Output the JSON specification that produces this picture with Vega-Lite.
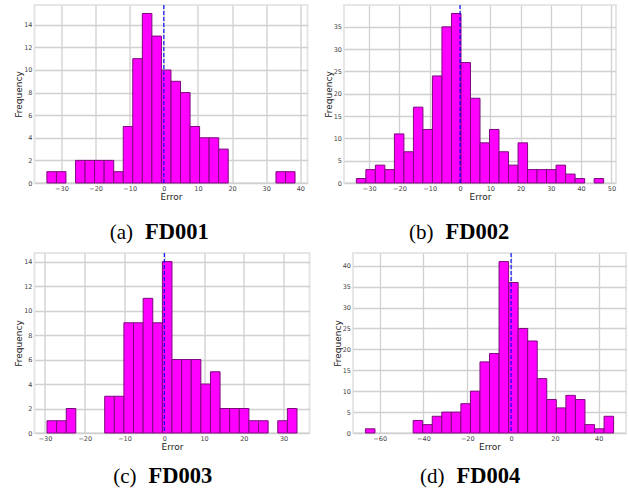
{
  "$schema": "https://vega.github.io/schema/vega-lite/v6.json",
  "padding": {"left": 13.5, "top": 3, "right": 0, "bottom": 0},
  "datasets": {
    "fd001": [
      {"bin_start": -34.27, "bin_end": -31.47, "count": 1},
      {"bin_start": -31.47, "bin_end": -28.68, "count": 1},
      {"bin_start": -25.88, "bin_end": -23.08, "count": 2},
      {"bin_start": -23.08, "bin_end": -20.29, "count": 2},
      {"bin_start": -20.29, "bin_end": -17.49, "count": 2},
      {"bin_start": -17.49, "bin_end": -14.69, "count": 2},
      {"bin_start": -14.69, "bin_end": -11.89, "count": 1},
      {"bin_start": -11.89, "bin_end": -9.10, "count": 5},
      {"bin_start": -9.10, "bin_end": -6.30, "count": 11},
      {"bin_start": -6.30, "bin_end": -3.50, "count": 15},
      {"bin_start": -3.50, "bin_end": -0.71, "count": 13},
      {"bin_start": -0.71, "bin_end": 2.09, "count": 10},
      {"bin_start": 2.09, "bin_end": 4.89, "count": 9},
      {"bin_start": 4.89, "bin_end": 7.69, "count": 8},
      {"bin_start": 7.69, "bin_end": 10.48, "count": 5},
      {"bin_start": 10.48, "bin_end": 13.28, "count": 4},
      {"bin_start": 13.28, "bin_end": 16.08, "count": 4},
      {"bin_start": 16.08, "bin_end": 18.87, "count": 3},
      {"bin_start": 32.86, "bin_end": 35.66, "count": 1},
      {"bin_start": 35.66, "bin_end": 38.45, "count": 1}
    ],
    "fd002": [
      {"bin_start": -34.24, "bin_end": -31.10, "count": 1},
      {"bin_start": -31.10, "bin_end": -27.96, "count": 3},
      {"bin_start": -27.96, "bin_end": -24.82, "count": 4},
      {"bin_start": -24.82, "bin_end": -21.67, "count": 3},
      {"bin_start": -21.67, "bin_end": -18.53, "count": 11},
      {"bin_start": -18.53, "bin_end": -15.39, "count": 7},
      {"bin_start": -15.39, "bin_end": -12.25, "count": 17},
      {"bin_start": -12.25, "bin_end": -9.11, "count": 12},
      {"bin_start": -9.11, "bin_end": -5.97, "count": 24},
      {"bin_start": -5.97, "bin_end": -2.82, "count": 35},
      {"bin_start": -2.82, "bin_end": 0.32, "count": 38},
      {"bin_start": 0.32, "bin_end": 3.46, "count": 27},
      {"bin_start": 3.46, "bin_end": 6.60, "count": 19},
      {"bin_start": 6.60, "bin_end": 9.74, "count": 9},
      {"bin_start": 9.74, "bin_end": 12.88, "count": 12},
      {"bin_start": 12.88, "bin_end": 16.02, "count": 7},
      {"bin_start": 16.02, "bin_end": 19.17, "count": 4},
      {"bin_start": 19.17, "bin_end": 22.31, "count": 9},
      {"bin_start": 22.31, "bin_end": 25.45, "count": 3},
      {"bin_start": 25.45, "bin_end": 28.59, "count": 3},
      {"bin_start": 28.59, "bin_end": 31.73, "count": 3},
      {"bin_start": 31.73, "bin_end": 34.87, "count": 4},
      {"bin_start": 34.87, "bin_end": 38.01, "count": 2},
      {"bin_start": 38.01, "bin_end": 41.16, "count": 1},
      {"bin_start": 44.30, "bin_end": 47.44, "count": 1}
    ],
    "fd003": [
      {"bin_start": -29.50, "bin_end": -27.08, "count": 1},
      {"bin_start": -27.08, "bin_end": -24.66, "count": 1},
      {"bin_start": -24.66, "bin_end": -22.25, "count": 2},
      {"bin_start": -14.99, "bin_end": -12.57, "count": 3},
      {"bin_start": -12.57, "bin_end": -10.16, "count": 3},
      {"bin_start": -10.16, "bin_end": -7.74, "count": 9},
      {"bin_start": -7.74, "bin_end": -5.32, "count": 9},
      {"bin_start": -5.32, "bin_end": -2.90, "count": 11},
      {"bin_start": -2.90, "bin_end": -0.48, "count": 9},
      {"bin_start": -0.48, "bin_end": 1.93, "count": 14},
      {"bin_start": 1.93, "bin_end": 4.35, "count": 6},
      {"bin_start": 4.35, "bin_end": 6.77, "count": 6},
      {"bin_start": 6.77, "bin_end": 9.19, "count": 6},
      {"bin_start": 9.19, "bin_end": 11.61, "count": 4},
      {"bin_start": 11.61, "bin_end": 14.02, "count": 5},
      {"bin_start": 14.02, "bin_end": 16.44, "count": 2},
      {"bin_start": 16.44, "bin_end": 18.86, "count": 2},
      {"bin_start": 18.86, "bin_end": 21.28, "count": 2},
      {"bin_start": 21.28, "bin_end": 23.70, "count": 1},
      {"bin_start": 23.70, "bin_end": 26.11, "count": 1},
      {"bin_start": 28.53, "bin_end": 30.95, "count": 1},
      {"bin_start": 30.95, "bin_end": 33.37, "count": 2}
    ],
    "fd004": [
      {"bin_start": -66.50, "bin_end": -62.14, "count": 1},
      {"bin_start": -44.71, "bin_end": -40.35, "count": 3},
      {"bin_start": -40.35, "bin_end": -35.99, "count": 2},
      {"bin_start": -35.99, "bin_end": -31.64, "count": 4},
      {"bin_start": -31.64, "bin_end": -27.28, "count": 5},
      {"bin_start": -27.28, "bin_end": -22.92, "count": 5},
      {"bin_start": -22.92, "bin_end": -18.56, "count": 7},
      {"bin_start": -18.56, "bin_end": -14.20, "count": 10},
      {"bin_start": -14.20, "bin_end": -9.85, "count": 17},
      {"bin_start": -9.85, "bin_end": -5.49, "count": 19},
      {"bin_start": -5.49, "bin_end": -1.13, "count": 41},
      {"bin_start": -1.13, "bin_end": 3.23, "count": 36},
      {"bin_start": 3.23, "bin_end": 7.59, "count": 25},
      {"bin_start": 7.59, "bin_end": 11.94, "count": 22},
      {"bin_start": 11.94, "bin_end": 16.30, "count": 13},
      {"bin_start": 16.30, "bin_end": 20.66, "count": 8},
      {"bin_start": 20.66, "bin_end": 25.02, "count": 6},
      {"bin_start": 25.02, "bin_end": 29.38, "count": 9},
      {"bin_start": 29.38, "bin_end": 33.73, "count": 8},
      {"bin_start": 33.73, "bin_end": 38.09, "count": 2},
      {"bin_start": 38.09, "bin_end": 42.45, "count": 1},
      {"bin_start": 42.45, "bin_end": 46.81, "count": 4}
    ],
    "zero": [{"zero": 0}]
  },
  "columns": 1,
  "align": "none",
  "spacing": 7,
  "concat": [
    {
      "spacing": 0,
      "vconcat": [
        {
          "spacing": 14.5,
          "hconcat": [
            {
              "width": 273, "height": 178,
              "layer": [
                {
                  "data": {"name": "fd001"},
                  "mark": {"type": "rect", "fill": "#ff00ff", "stroke": "#7d087d", "strokeWidth": 1},
                  "encoding": {
                    "x": {"field": "bin_start", "type": "quantitative", "scale": {"domain": [-37.9, 42.1], "nice": false, "zero": false}, "axis": {"title": "Error", "values": [-30, -20, -10, 0, 10, 20, 30, 40], "format": "d", "tickCount": 30}},
                    "x2": {"field": "bin_end"},
                    "y": {"field": "count", "type": "quantitative", "scale": {"domain": [0, 15.75], "nice": false}, "axis": {"title": "Frequency", "values": [0, 2, 4, 6, 8, 10, 12, 14], "format": "d", "tickCount": 30}},
                    "y2": {"datum": 0}
                  }
                },
                {
                  "data": {"name": "zero"},
                  "mark": {"type": "rule", "color": "#0000ff", "strokeDash": [4, 2], "strokeWidth": 1.1},
                  "encoding": {"x": {"field": "zero", "type": "quantitative"}}
                }
              ]
            },
            {
              "width": 272, "height": 178,
              "layer": [
                {
                  "data": {"name": "fd002"},
                  "mark": {"type": "rect", "fill": "#ff00ff", "stroke": "#7d087d", "strokeWidth": 1},
                  "encoding": {
                    "x": {"field": "bin_start", "type": "quantitative", "scale": {"domain": [-38.32, 51.52], "nice": false, "zero": false}, "axis": {"title": "Error", "values": [-30, -20, -10, 0, 10, 20, 30, 40, 50], "format": "d", "tickCount": 30}},
                    "x2": {"field": "bin_end"},
                    "y": {"field": "count", "type": "quantitative", "scale": {"domain": [0, 39.9], "nice": false}, "axis": {"title": "Frequency", "values": [0, 5, 10, 15, 20, 25, 30, 35], "format": "d", "tickCount": 30}},
                    "y2": {"datum": 0}
                  }
                },
                {
                  "data": {"name": "zero"},
                  "mark": {"type": "rule", "color": "#0000ff", "strokeDash": [4, 2], "strokeWidth": 1.1},
                  "encoding": {"x": {"field": "zero", "type": "quantitative"}}
                }
              ]
            }
          ]
        },
        {
          "spacing": 46,
          "hconcat": [
            {
              "width": 209, "height": 36, "view": {"stroke": null},
              "data": {"values": [{"tag": "(a)", "name": "FD001"}]},
              "layer": [
                {"mark": {"type": "text", "font": "Liberation Serif", "fontSize": 21, "align": "right", "baseline": "alphabetic", "dx": -6, "color": "#000000"}, "encoding": {"text": {"field": "tag"}, "y": {"value": "height"}}},
                {"mark": {"type": "text", "font": "Liberation Serif", "fontSize": 22.5, "fontWeight": "bold", "align": "left", "baseline": "alphabetic", "dx": 6, "color": "#000000"}, "encoding": {"text": {"field": "name"}, "y": {"value": "height"}}}
              ]
            },
            {
              "width": 300, "height": 36, "view": {"stroke": null},
              "data": {"values": [{"tag": "(b)", "name": "FD002"}]},
              "layer": [
                {"mark": {"type": "text", "font": "Liberation Serif", "fontSize": 21, "align": "right", "baseline": "alphabetic", "dx": -6, "color": "#000000"}, "encoding": {"text": {"field": "tag"}, "y": {"value": "height"}}},
                {"mark": {"type": "text", "font": "Liberation Serif", "fontSize": 22.5, "fontWeight": "bold", "align": "left", "baseline": "alphabetic", "dx": 6, "color": "#000000"}, "encoding": {"text": {"field": "name"}, "y": {"value": "height"}}}
              ]
            }
          ]
        }
      ]
    },
    {
      "spacing": 0,
      "vconcat": [
        {
          "spacing": 21.5,
          "hconcat": [
            {
              "width": 275, "height": 180,
              "layer": [
                {
                  "data": {"name": "fd003"},
                  "mark": {"type": "rect", "fill": "#ff00ff", "stroke": "#7d087d", "strokeWidth": 1},
                  "encoding": {
                    "x": {"field": "bin_start", "type": "quantitative", "scale": {"domain": [-32.64, 36.51], "nice": false, "zero": false}, "axis": {"title": "Error", "values": [-30, -20, -10, 0, 10, 20, 30], "format": "d", "tickCount": 30}},
                    "x2": {"field": "bin_end"},
                    "y": {"field": "count", "type": "quantitative", "scale": {"domain": [0, 14.7], "nice": false}, "axis": {"title": "Frequency", "values": [0, 2, 4, 6, 8, 10, 12, 14], "format": "d", "tickCount": 30}},
                    "y2": {"datum": 0}
                  }
                },
                {
                  "data": {"name": "zero"},
                  "mark": {"type": "rule", "color": "#0000ff", "strokeDash": [4, 2], "strokeWidth": 1.1},
                  "encoding": {"x": {"field": "zero", "type": "quantitative"}}
                }
              ]
            },
            {
              "width": 273, "height": 180,
              "layer": [
                {
                  "data": {"name": "fd004"},
                  "mark": {"type": "rect", "fill": "#ff00ff", "stroke": "#7d087d", "strokeWidth": 1},
                  "encoding": {
                    "x": {"field": "bin_start", "type": "quantitative", "scale": {"domain": [-72.17, 52.47], "nice": false, "zero": false}, "axis": {"title": "Error", "values": [-60, -40, -20, 0, 20, 40], "format": "d", "tickCount": 30}},
                    "x2": {"field": "bin_end"},
                    "y": {"field": "count", "type": "quantitative", "scale": {"domain": [0, 43.05], "nice": false}, "axis": {"title": "Frequency", "values": [0, 5, 10, 15, 20, 25, 30, 35, 40], "format": "d", "tickCount": 30}},
                    "y2": {"datum": 0}
                  }
                },
                {
                  "data": {"name": "zero"},
                  "mark": {"type": "rule", "color": "#0000ff", "strokeDash": [4, 2], "strokeWidth": 1.1},
                  "encoding": {"x": {"field": "zero", "type": "quantitative"}}
                }
              ]
            }
          ]
        },
        {
          "spacing": 50,
          "hconcat": [
            {
              "width": 216, "height": 30, "view": {"stroke": null},
              "data": {"values": [{"tag": "(c)", "name": "FD003"}]},
              "layer": [
                {"mark": {"type": "text", "font": "Liberation Serif", "fontSize": 21, "align": "right", "baseline": "alphabetic", "dx": -6, "color": "#000000"}, "encoding": {"text": {"field": "tag"}, "y": {"value": "height"}}},
                {"mark": {"type": "text", "font": "Liberation Serif", "fontSize": 22.5, "fontWeight": "bold", "align": "left", "baseline": "alphabetic", "dx": 6, "color": "#000000"}, "encoding": {"text": {"field": "name"}, "y": {"value": "height"}}}
              ]
            },
            {
              "width": 300, "height": 30, "view": {"stroke": null},
              "data": {"values": [{"tag": "(d)", "name": "FD004"}]},
              "layer": [
                {"mark": {"type": "text", "font": "Liberation Serif", "fontSize": 21, "align": "right", "baseline": "alphabetic", "dx": -6, "color": "#000000"}, "encoding": {"text": {"field": "tag"}, "y": {"value": "height"}}},
                {"mark": {"type": "text", "font": "Liberation Serif", "fontSize": 22.5, "fontWeight": "bold", "align": "left", "baseline": "alphabetic", "dx": 6, "color": "#000000"}, "encoding": {"text": {"field": "name"}, "y": {"value": "height"}}}
              ]
            }
          ]
        }
      ]
    }
  ],
  "config": {
    "font": "DejaVu Sans",
    "view": {"stroke": "#e6e6e6", "strokeWidth": 2},
    "axis": {"domain": false, "ticks": false, "grid": true, "gridColor": "#d0d0d0", "gridWidth": 1.3, "labelOverlap": false, "labelFont": "DejaVu Sans", "labelFontSize": 6.5, "labelColor": "#444444", "titleFont": "DejaVu Sans", "titleFontSize": 9, "titleFontWeight": "normal", "titleColor": "#222222"},
    "axisX": {"labelPadding": 2, "titlePadding": 1},
    "axisY": {"labelPadding": 2.5, "titlePadding": 0}
  }
}
